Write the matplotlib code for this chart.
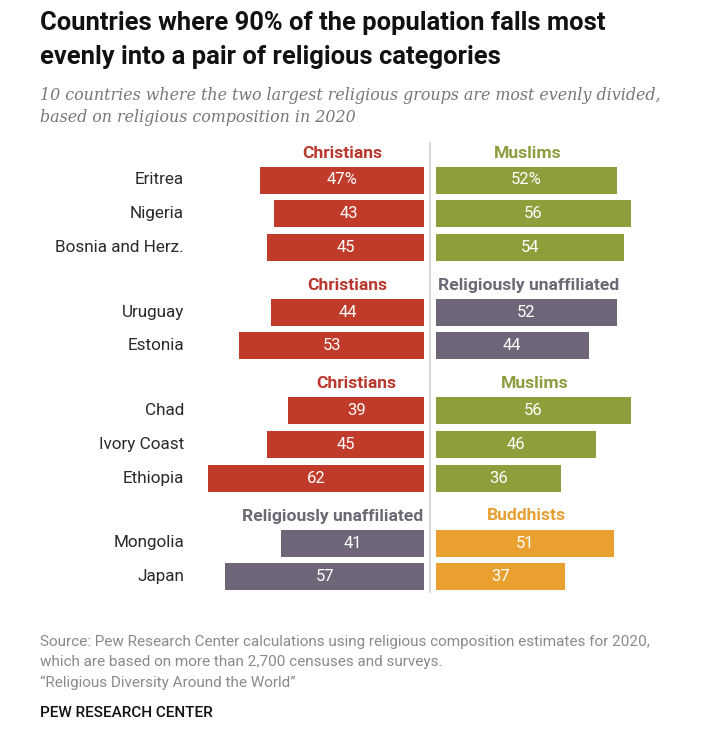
import matplotlib.pyplot as plt
import numpy as np

# data
countries = ["Eritrea", "Nigeria", "Bosnia and Herz.", "Uruguay", "Estonia",
             "Chad", "Ivory Coast", "Ethiopia", "Mongolia", "Japan"]
left_vals = [47, 43, 45, 44, 53, 39, 45, 62, 41, 57]
right_vals = [52, 56, 54, 52, 44, 56, 46, 36, 51, 37]
groups = [0, 0, 0, 1, 1, 2, 2, 2, 3, 3]
left_groups = ["Christians", "Christians", "Christians", "Religiously unaffiliated"]
right_groups = ["Muslims", "Religiously unaffiliated", "Muslims", "Buddhists"]

bar_col = {"Christians": "#C13B2A", "Muslims": "#8D9E3B",
           "Religiously unaffiliated": "#6E6579", "Buddhists": "#EAA02F"}
head_col = {"Christians": "#B9372C", "Muslims": "#8C9C3E",
            "Religiously unaffiliated": "#6C6975", "Buddhists": "#E8A033"}

W, H = 708, 734
fig = plt.figure(figsize=(W / 100, H / 100), dpi=100)
fig.patch.set_facecolor("white")
ax = fig.add_axes([0, 0, 1, 1])
scale = 3.49          # pixels per percentage point
cx = 430              # divider position in pixels
ax.set_xlim(-cx / scale, (W - cx) / scale)
ax.set_ylim(H, 0)
ax.axis("off")

sans = ["Roboto", "DejaVu Sans"]
gap = 1.6

# row positions (layout)
ys = []
y = 180
for i, g in enumerate(groups):
    if i > 0:
        y += 65 if g != groups[i - 1] else 33.6
    ys.append(y)
ys = np.array(ys)

ax.plot([0, 0], [143, 592], color="#d0d0d0", lw=1.2, zorder=0)

for i, c in enumerate(countries):
    g = groups[i]
    lc = bar_col[left_groups[g]]
    rc = bar_col[right_groups[g]]
    ax.barh(ys[i], -left_vals[i], left=-gap, height=27, color=lc)
    ax.barh(ys[i], right_vals[i], left=gap, height=27, color=rc)
    suffix = "%" if i == 0 else ""
    ax.text(-gap - left_vals[i] / 2, ys[i], f"{left_vals[i]}{suffix}", color="white",
            ha="center", va="center", fontsize=12, family=sans)
    ax.text(gap + right_vals[i] / 2, ys[i], f"{right_vals[i]}{suffix}", color="white",
            ha="center", va="center", fontsize=12, family=sans)
    ax.text(-cx / scale + 184 / scale, ys[i], c, ha="right", va="center",
            fontsize=12.3, color="#2a2a2a", family=sans)

# group headers
for g in range(4):
    first = groups.index(g)
    hy = ys[first] - 27
    ln, rn = left_groups[g], right_groups[g]
    if len(ln) > 15:
        ax.text(-gap - 0.5, hy, ln, ha="right", va="center", fontsize=12.6,
                fontweight="bold", color=head_col[ln], family=sans)
    else:
        ax.text(-gap - left_vals[first] / 2, hy, ln, ha="center", va="center",
                fontsize=12.6, fontweight="bold", color=head_col[ln], family=sans)
    ax.text(gap + right_vals[first] / 2 + 0.5, hy, rn, ha="center", va="center",
            fontsize=12.6, fontweight="bold", color=head_col[rn], family=sans)

# titles
def fy(p):
    return 1 - p / H

fig.text(40 / W, fy(23), "Countries where 90% of the population falls most",
         fontsize=18.4, fontweight="bold", color="#111111", va="center", family=sans)
fig.text(40 / W, fy(57), "evenly into a pair of religious categories",
         fontsize=18.4, fontweight="bold", color="#111111", va="center", family=sans)
fig.text(40 / W, fy(96), "10 countries where the two largest religious groups are most evenly divided,",
         fontsize=11.4, style="italic", color="#777777", va="center", family="DejaVu Serif")
fig.text(40 / W, fy(118), "based on religious composition in 2020",
         fontsize=11.4, style="italic", color="#777777", va="center", family="DejaVu Serif")

fig.text(40 / W, fy(642), "Source: Pew Research Center calculations using religious composition estimates for 2020,",
         fontsize=11, color="#8a8a8a", va="center", family=sans)
fig.text(40 / W, fy(662), "which are based on more than 2,700 censuses and surveys.",
         fontsize=11, color="#8a8a8a", va="center", family=sans)
fig.text(40 / W, fy(683), "\u201cReligious Diversity Around the World\u201d",
         fontsize=11, color="#8a8a8a", va="center", family=sans)
fig.text(40 / W, fy(713), "PEW RESEARCH CENTER",
         fontsize=11, fontweight="medium", color="#111111", va="center", family=sans)

fig.savefig("out.png", dpi=100, facecolor="white")
